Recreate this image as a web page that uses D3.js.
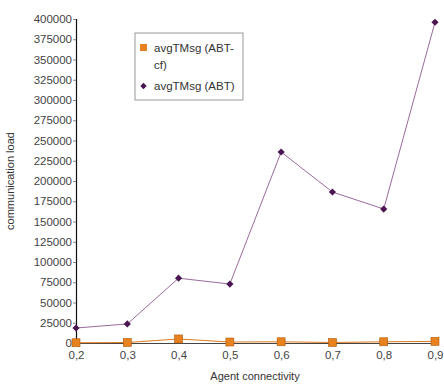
<!DOCTYPE html>
<html>
<head>
<meta charset="utf-8">
<script src="https://cdn.jsdelivr.net/npm/d3@7"></script>
<style>
  body { margin: 0; background: #fff; }
  text { font-family: "Liberation Sans", Arial, sans-serif; }
</style>
</head>
<body>
<div id="chart"></div>
<script>
// data
let connectivity = [0.2, 0.3, 0.4, 0.5, 0.6, 0.7, 0.8, 0.9];
let abtCf = [300, 600, 5000, 1200, 1500, 600, 1500, 2000];
let abt = [18500, 23500, 80000, 72800, 235800, 186400, 165400, 396000];
let yTicks = d3.range(0, 400001, 25000);
let seriesNames = ["avgTMsg (ABT-cf)", "avgTMsg (ABT)"];

let margin = {top: 19, bottom: 44, left: 76, right: 8};
let width = 444 - margin.left - margin.right;
let height = 387 - margin.top - margin.bottom;

let svg = d3.select("#chart")
  .append("svg")
  .attr("width", 444)
  .attr("height", 387)
  .append("g")
  .attr("transform", "translate(" + margin.left + "," + margin.top + ")");

let x = d3.scaleLinear().domain([0.2, 0.9]).range([0, 359]);
let y = d3.scaleLinear().domain([0, 400000]).range([height, 0]);

// y axis
let yAxis = svg.append("g")
  .call(d3.axisLeft(y).tickValues(yTicks).tickSize(3).tickFormat(d3.format("d")));
yAxis.select(".domain").attr("stroke", "#111").attr("stroke-width", 1.2);
yAxis.selectAll("line").attr("stroke", "#888");
yAxis.selectAll("text").attr("fill", "#444").style("font-size", "11.5px").attr("x", -4);

// x axis
let xAxis = svg.append("g")
  .attr("transform", "translate(0," + height + ")")
  .call(d3.axisBottom(x).tickValues(connectivity).tickSize(0)
    .tickFormat(d => d3.format(".1f")(d).replace(".", ",")));
xAxis.select(".domain").attr("stroke", "#444").attr("stroke-width", 1.2);
xAxis.selectAll("text").attr("fill", "#444").style("font-size", "11.5px").attr("dy", "1.1em");

// diamond = square turned 45 degrees
let diamond = d3.symbol().type(d3.symbolSquare).size(26);

// ABT line
svg.append("path")
  .datum(abt)
  .attr("fill", "none")
  .attr("stroke", "#9a6a9a")
  .attr("stroke-width", 1)
  .attr("d", d3.line().x((d, i) => x(connectivity[i])).y(d => y(d)));

svg.append("g")
  .selectAll("path")
  .data(abt)
  .enter()
  .append("path")
  .attr("transform", (d, i) => "translate(" + x(connectivity[i]) + "," + y(d) + ")rotate(45)")
  .attr("d", diamond)
  .attr("fill", "#4a1550");

// ABT-cf line
svg.append("path")
  .datum(abtCf)
  .attr("fill", "none")
  .attr("stroke", "#e07a20")
  .attr("stroke-width", 1)
  .attr("d", d3.line().x((d, i) => x(connectivity[i])).y(d => y(d)));

svg.append("g")
  .selectAll("rect")
  .data(abtCf)
  .enter()
  .append("rect")
  .attr("x", (d, i) => x(connectivity[i]) - 4)
  .attr("y", d => y(d) - 4)
  .attr("width", 8)
  .attr("height", 8)
  .attr("fill", "#e8821e")
  .attr("stroke", "#b05a10")
  .attr("stroke-width", 0.6);

// axis labels
svg.append("text")
  .attr("x", 179)
  .attr("y", height + 37)
  .attr("text-anchor", "middle")
  .attr("fill", "#333")
  .style("font-size", "11px")
  .text("Agent connectivity");

svg.append("text")
  .attr("text-anchor", "middle")
  .attr("transform", "translate(-62," + height / 2 + ")rotate(-90)")
  .attr("fill", "#333")
  .style("font-size", "11px")
  .text("communication load");

// legend
let legend = svg.append("g").attr("transform", "translate(" + (135 - margin.left) + "," + (33 - margin.top) + ")");
legend.append("rect")
  .attr("width", 108).attr("height", 67)
  .attr("fill", "#fff").attr("stroke", "#999").attr("stroke-width", 1);
legend.append("rect")
  .attr("x", 5).attr("y", 11).attr("width", 7).attr("height", 7)
  .attr("fill", "#e8821e");
legend.append("text").attr("x", 19).attr("y", 19).attr("fill", "#333").style("font-size", "11.5px").text("avgTMsg (ABT-");
legend.append("text").attr("x", 19).attr("y", 36).attr("fill", "#333").style("font-size", "11.5px").text("cf)");
legend.append("path")
  .attr("transform", "translate(8.5,53)rotate(45)")
  .attr("d", d3.symbol().type(d3.symbolSquare).size(20))
  .attr("fill", "#4a1550");
legend.append("text").attr("x", 19).attr("y", 57).attr("fill", "#333").style("font-size", "11.5px").text(seriesNames[1]);
</script>
</body>
</html>
